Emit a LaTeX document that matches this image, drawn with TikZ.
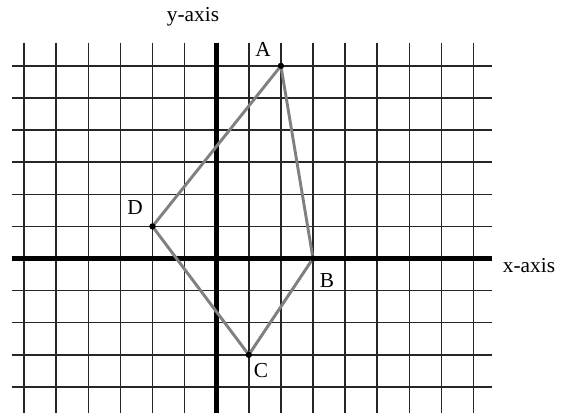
\documentclass[tikz,border=0pt]{standalone}
\usepackage{fontspec}
\setmainfont{Liberation Serif}
\begin{document}
\begin{tikzpicture}[x=0.75pt,y=-0.75pt,
  gridline/.style={line width=1.1pt,black!85},
  axisline/.style={line width=3.6pt,black},
  edge/.style={line width=2.2pt,black!50},
  vdot/.style={circle,fill=black,inner sep=0pt,minimum size=4.5pt},
  lbl/.style={font=\fontsize{16}{18}\selectfont,inner sep=0pt}]
\useasboundingbox (0,0) rectangle (568,413);
\def\ox{216.7}\def\oy{258.5}\def\s{32.1}
% grid
\foreach \k in {-6,...,8}{
  \draw[gridline] ({\ox+\k*\s},42.7) -- ({\ox+\k*\s},413);
}
\foreach \j in {-4,...,6}{
  \draw[gridline] (11.7,{\oy-\j*\s}) -- (491.7,{\oy-\j*\s});
}
% axes
\draw[axisline] (\ox,42.7) -- (\ox,413);
\draw[axisline] (11.7,\oy) -- (491.7,\oy);
% vertices
\node[vdot] (A) at ({\ox+2*\s},{\oy-6*\s}) {};
\node[vdot] (B) at ({\ox+3*\s},{\oy}) {};
\node[vdot] (C) at ({\ox+1*\s},{\oy+3*\s}) {};
\node[vdot] (D) at ({\ox-2*\s},{\oy-1*\s}) {};
\draw[edge,line join=round] (A.center) -- (B.center) -- (C.center) -- (D.center) -- cycle;
\foreach \p in {A,B,C,D}{\fill (\p) circle (2.3pt);}
% labels
\node[lbl] (la) at (263,49) {A};
\node[lbl] (lb) at (327,281) {B};
\node[lbl] (lc) at (261,371) {C};
\node[lbl] (ld) at (135,208) {D};
\node[lbl] (xa) at (529,266) {x-axis};
\node[lbl] (ya) at (193,17) {y-axis};
\end{tikzpicture}
\end{document}
